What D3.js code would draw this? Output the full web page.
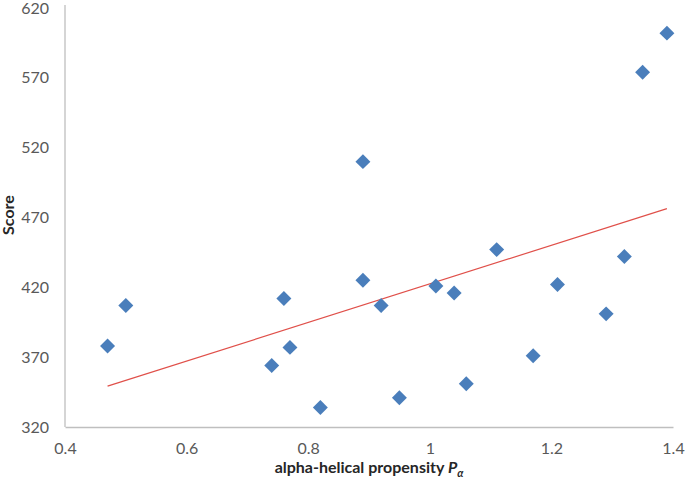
<!DOCTYPE html>
<html><head><meta charset="utf-8">
<script src="https://cdn.jsdelivr.net/npm/d3@7"></script>
<style>body{margin:0;background:#fff}svg{display:block}</style>
</head><body>
<svg id="c" width="685" height="485"></svg>
<script>
const propensity = [0.47,0.5,0.74,0.76,0.77,0.82,0.89,0.89,0.92,0.95,1.01,1.04,1.06,1.11,1.17,1.21,1.29,1.32,1.35,1.39];
const score =      [378,407,364,412,377,334,510,425,407,341,421,416,351,447,371,422,401,442,574,602];
const xTicks = [0.4,0.6,0.8,1,1.2,1.4];
const yTicks = [320,370,420,470,520,570,620];

const svg = d3.select("#c");
const x = d3.scaleLinear().domain([0.4,1.4]).range([65,673]);
const y = d3.scaleLinear().domain([320,620]).range([427,8]);
const font = "Lato, 'Open Sans', sans-serif";

const xAxis = d3.axisBottom(x).tickValues(xTicks).tickSize(0).tickPadding(16).tickFormat(d3.format(""));
const gx = svg.append("g").attr("transform","translate(0,427)").call(xAxis);
gx.select(".domain").attr("stroke","#bfbfbf").attr("stroke-width",1.3);
gx.selectAll("text").attr("font-family",font).attr("font-size",16).attr("fill","#595959");

const yAxis = d3.axisLeft(y).tickValues(yTicks).tickSize(0).tickPadding(16);
const gy = svg.append("g").attr("transform","translate(65,0)").call(yAxis);
gy.select(".domain").attr("stroke","#bfbfbf").attr("stroke-width",1.3).attr("d","M0,5V427");
gy.selectAll("text").attr("font-family",font).attr("font-size",16).attr("fill","#595959");

// least-squares trendline
const n = propensity.length;
const mx = d3.mean(propensity), my = d3.mean(score);
let sxy = 0, sxx = 0;
for (let i=0;i<n;i++){ sxy += (propensity[i]-mx)*(score[i]-my); sxx += (propensity[i]-mx)**2; }
const slope = sxy/sxx, icpt = my - slope*mx;
const [x0,x1] = d3.extent(propensity);
svg.append("line")
  .attr("x1",x(x0)).attr("y1",y(icpt+slope*x0))
  .attr("x2",x(x1)).attr("y2",y(icpt+slope*x1))
  .attr("stroke","#e0504a").attr("stroke-width",1.2);

const sym = d3.symbol(d3.symbolSquare, 112);
svg.append("g").selectAll("path").data(d3.range(n)).join("path")
  .attr("d", sym)
  .attr("transform", i => `translate(${x(propensity[i])},${y(score[i])}) rotate(45)`)
  .attr("fill","#4a7ebb");

const xt = svg.append("text").attr("x",369).attr("y",473).attr("text-anchor","middle")
  .attr("font-family",font).attr("font-size",16).attr("font-weight","bold").attr("fill","#262626");
xt.append("tspan").text("alpha-helical propensity ");
xt.append("tspan").attr("font-style","italic").text("P");
xt.append("tspan").attr("font-style","italic").attr("font-size",11).attr("dy",4).text("α");

svg.append("text").attr("transform","translate(14,215) rotate(-90)").attr("text-anchor","middle")
  .attr("font-family",font).attr("font-size",16).attr("font-weight","bold").attr("fill","#262626")
  .text("Score");
</script>
</body></html>
